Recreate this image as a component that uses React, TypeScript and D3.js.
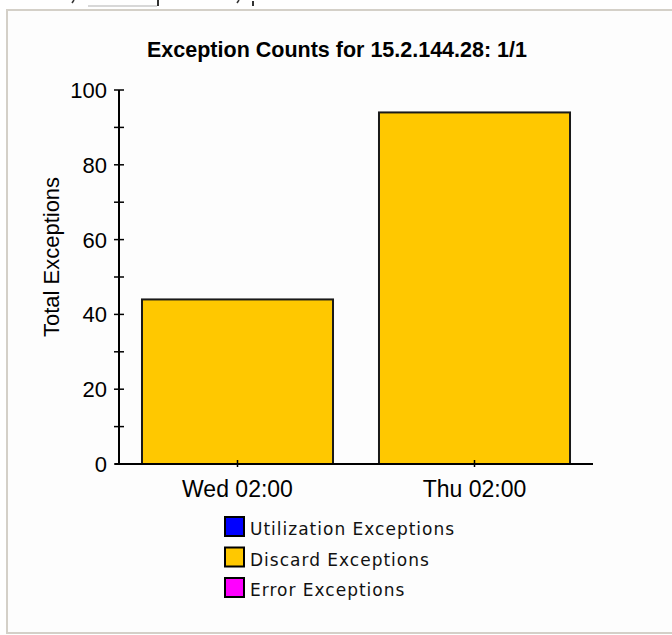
import React from "react";
import * as d3 from "d3";

const categories = ["Wed 02:00", "Thu 02:00"];
const discardValues = [44, 94];
const yTicks = [0, 20, 40, 60, 80, 100];
const yMinorTicks = [10, 30, 50, 70, 90];
const legendLabels = ["Utilization Exceptions", "Discard Exceptions", "Error Exceptions"];
const legendColors = ["#0000ff", "#ffc800", "#ff00ff"];
const title = "Exception Counts for 15.2.144.28: 1/1";
const yLabel = "Total Exceptions";

export default function App() {
  const W = 672, H = 635;
  const x0 = 119, x1 = 593, y0 = 464, y1 = 90;
  const x = d3.scaleBand<string>().domain(categories).range([x0, x1]).paddingInner(0.194).paddingOuter(0.097);
  const y = d3.scaleLinear().domain([0, 100]).range([y0, y1]);
  const font = "Arial, 'Liberation Sans', sans-serif";
  return (
    <svg width={W} height={H} style={{ position: "absolute", left: 0, top: 0, background: "#fff" }}>
      {/* outer frame */}
      <rect x={7} y={10} width={W} height={623} fill="#fdfdfd" stroke="#d4d0c8" strokeWidth={2} />
      <line x1={88} x2={157} y1={6} y2={6} stroke="#d8d8d8" strokeWidth={2} />
      <line x1={158} x2={158} y1={0} y2={6} stroke="#333" strokeWidth={2} />
      <line x1={253} x2={253} y1={1} y2={6} stroke="#333" strokeWidth={2} />
      <line x1={72} x2={74} y1={3} y2={0} stroke="#333" strokeWidth={1.5} />
      <line x1={237} x2={239} y1={3} y2={0} stroke="#333" strokeWidth={1.5} />
      <text x={337} y={57} textAnchor="middle" fontFamily={font} fontWeight="bold" fontSize={21.5} fill="#000">{title}</text>
      {/* bars */}
      {categories.map((c, i) => (
        <rect key={c} x={x(c)!} y={y(discardValues[i])} width={x.bandwidth()} height={y0 - y(discardValues[i])}
          fill="#ffc800" stroke="#1a1a1a" strokeWidth={2} />
      ))}
      {/* y axis */}
      <line x1={x0} x2={x0} y1={y1} y2={y0} stroke="#000" strokeWidth={2} />
      {yTicks.map(t => (
        <g key={t}>
          <line x1={x0 - 5} x2={x0 + 5} y1={y(t)} y2={y(t)} stroke="#000" strokeWidth={1.5} />
          <text x={107} y={y(t)} dy="0.36em" textAnchor="end" fontFamily={font} fontSize={22} fill="#000">{t}</text>
        </g>
      ))}
      {yMinorTicks.map(t => (
        <line key={t} x1={x0 - 5} x2={x0 + 5} y1={y(t)} y2={y(t)} stroke="#000" strokeWidth={1.5} />
      ))}
      <text transform={`translate(59,257) rotate(-90)`} textAnchor="middle" fontFamily={font} fontSize={22} fill="#000">{yLabel}</text>
      {/* x axis */}
      <line x1={x0 - 4} x2={x1} y1={y0} y2={y0} stroke="#000" strokeWidth={2} />
      {categories.map(c => {
        const cx = x(c)! + x.bandwidth() / 2;
        return (
          <g key={c}>
            <line x1={cx} x2={cx} y1={y0 - 4} y2={y0 + 3} stroke="#000" strokeWidth={1.5} />
            <text x={cx} y={497} textAnchor="middle" fontFamily={font} fontSize={23} fill="#000">{c}</text>
          </g>
        );
      })}
      {/* legend */}
      {legendLabels.map((l, i) => (
        <g key={l} transform={`translate(225,${517 + i * 30.5})`}>
          <rect x={0} y={0} width={19} height={19} fill={legendColors[i]} stroke="#000" strokeWidth={2} />
          <text x={25} y={18} fontFamily="'DejaVu Sans', sans-serif" fontSize={17} letterSpacing={1} fill="#111">{l}</text>
        </g>
      ))}
    </svg>
  );
}
